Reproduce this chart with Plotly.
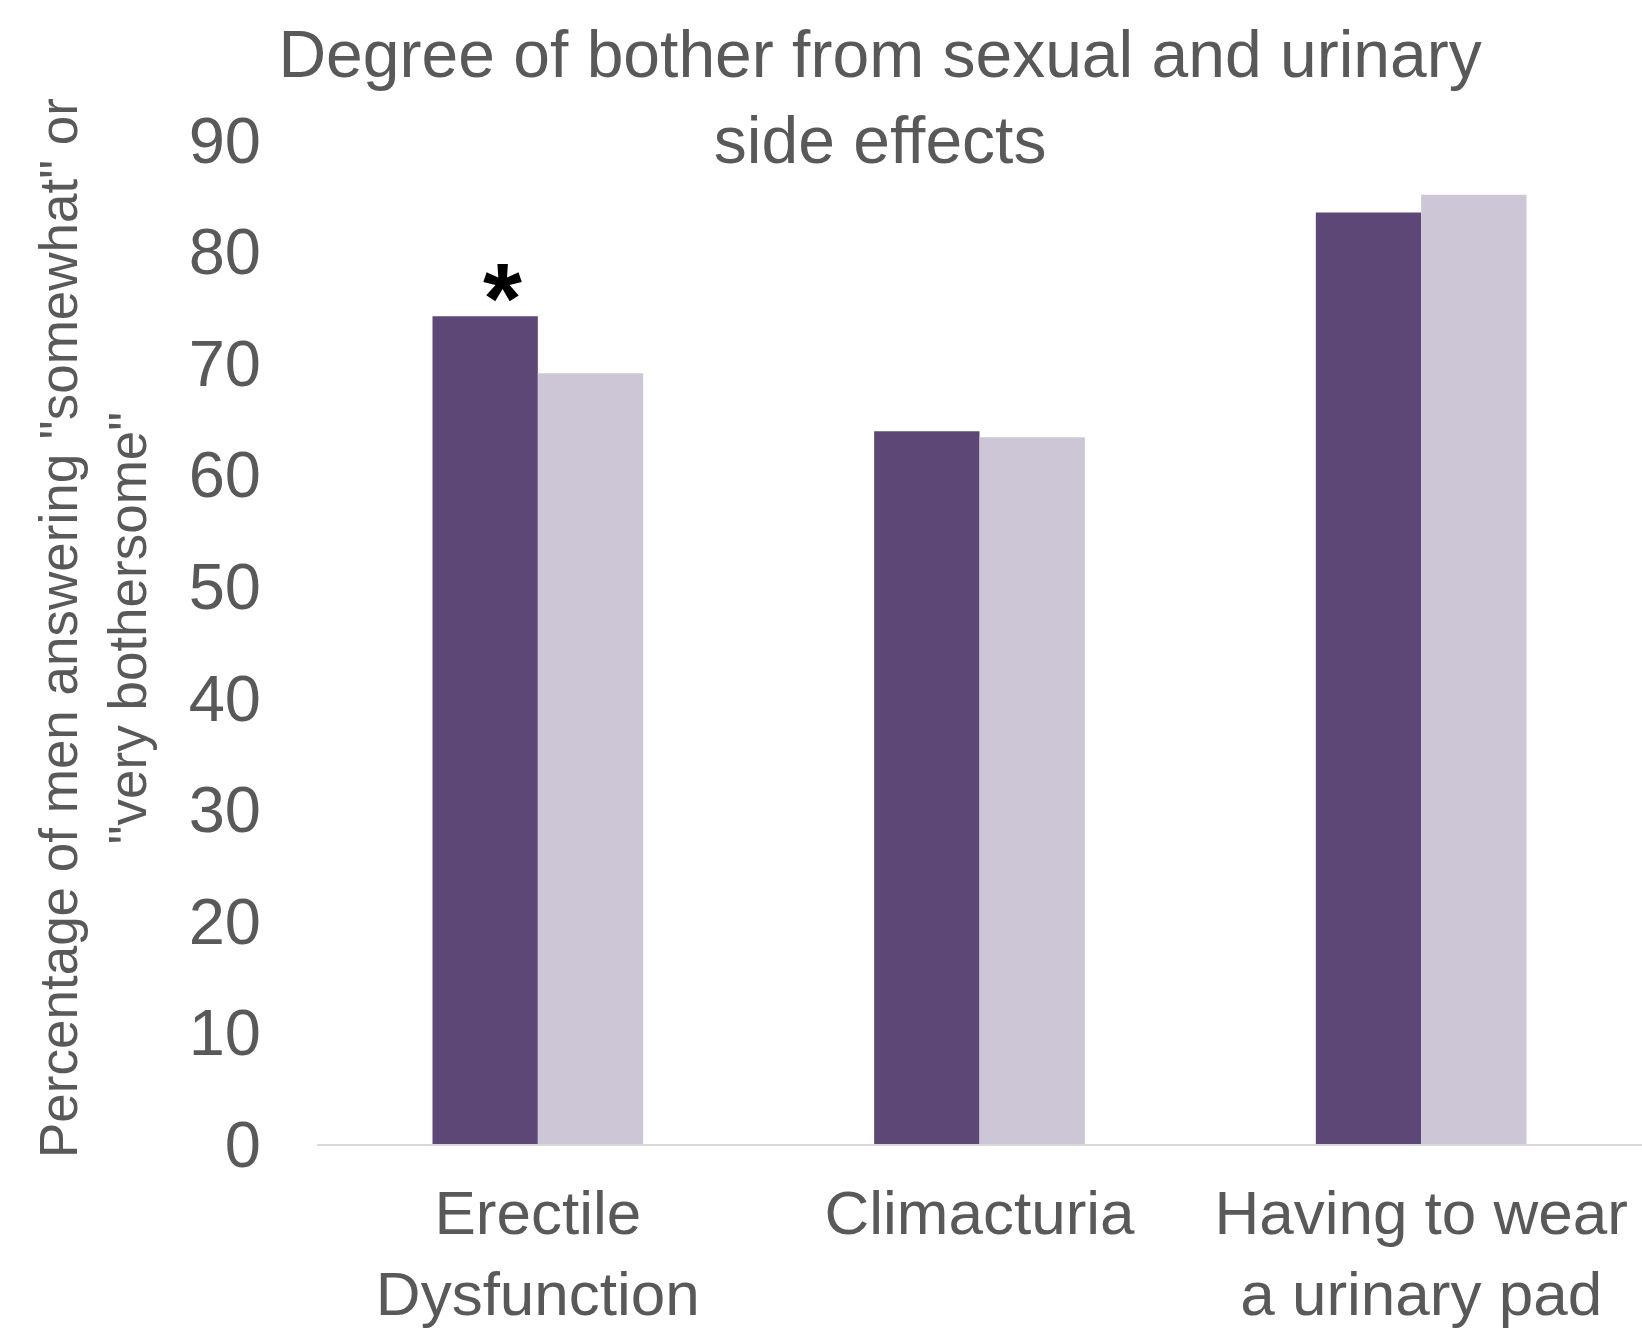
import plotly.graph_objects as go

categories = ["Erectile<br>Dysfunction", "Climacturia", "Having to wear<br>a urinary pad"]
series_a = [74.2, 63.9, 83.5]
series_b = [69.1, 63.35, 85.1]
significance = ["*", "", ""]
y_ticks = [0, 10, 20, 30, 40, 50, 60, 70, 80, 90]
y_title = 'Percentage of men answering "somewhat" or<br>"very bothersome"'
chart_title = "Degree of bother from sexual and urinary<br>side effects"

dark = "#5D4776"
light = "#CDC6D7"
gray = "#595959"
font_family = "Liberation Sans, Arial, sans-serif"

fig = go.Figure()
fig.add_trace(go.Bar(x=categories, y=series_a, marker=dict(color=dark, line=dict(width=0)), showlegend=False))
fig.add_trace(go.Bar(x=categories, y=series_b, marker=dict(color=light, line=dict(width=0)), showlegend=False))

for cat, val, sig in zip(categories, series_a, significance):
    if sig:
        fig.add_annotation(x=cat, y=val, text="<b>%s</b>" % sig, showarrow=False,
                           xanchor="center", yanchor="bottom", xshift=-35, yshift=-40,
                           font=dict(size=100, color="black", family=font_family))

# y-axis title as rotated annotation for precise placement
fig.add_annotation(text=y_title, xref="paper", yref="paper", x=0, y=0.5,
                   xshift=-224, yshift=14, xanchor="center", yanchor="middle",
                   textangle=-90, showarrow=False,
                   font=dict(size=53, color=gray, family=font_family))

fig.update_layout(
    width=1642, height=1328,
    margin=dict(l=317, r=0, t=140, b=184, autoexpand=False),
    paper_bgcolor="white", plot_bgcolor="white",
    barmode="group", bargap=0.523, bargroupgap=0,
    font=dict(family=font_family, color=gray),
    title=dict(text=chart_title,
               x=0.536, xanchor="center", xref="container",
               y=1, yanchor="top", yref="container", pad=dict(t=77),
               font=dict(size=66, color=gray, family=font_family)),
    xaxis=dict(showline=True, linecolor="#D9D9D9", linewidth=2, showgrid=False, automargin=False,
               ticks="", tickfont=dict(size=62, color=gray), ticklabelstandoff=14),
    yaxis=dict(range=[0, 90], tickvals=y_ticks, showgrid=False, zeroline=False, showline=False,
               automargin=False, ticks="", tickfont=dict(size=65, color=gray), ticklabelstandoff=55),
)

fig.write_html("out.html", config={"displayModeBar": False},
               post_script="document.body.style.margin='0';document.body.style.overflow='hidden';")
